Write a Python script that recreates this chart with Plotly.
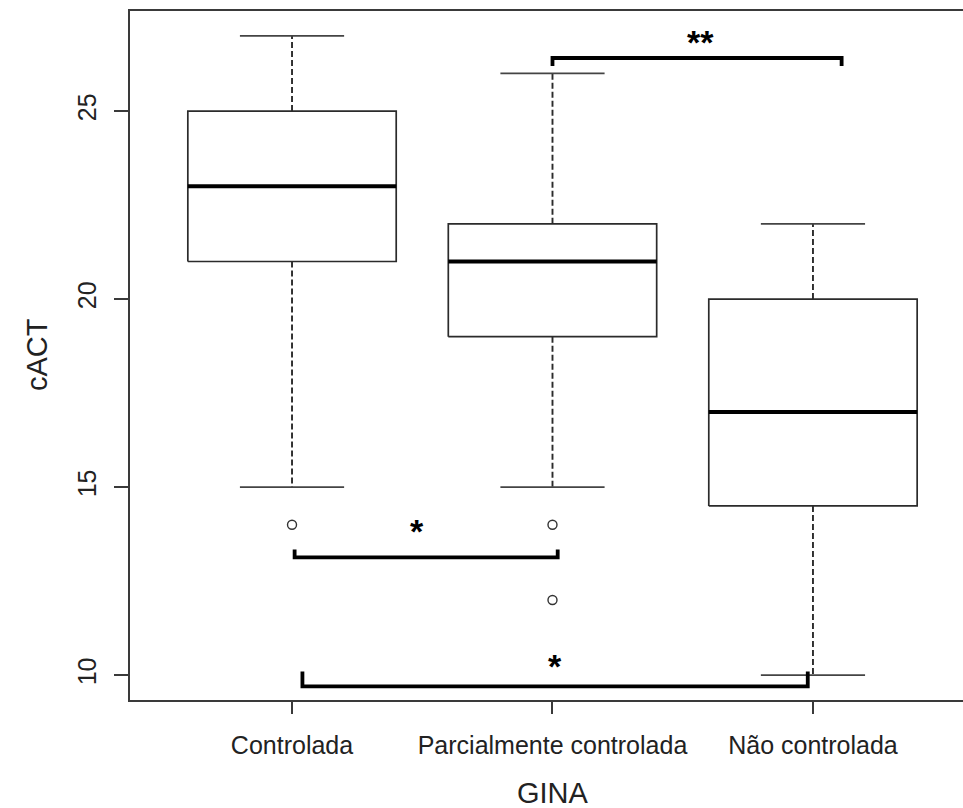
import plotly.graph_objects as go

# ---- data ----
categories = ["Controlada", "Parcialmente controlada", "Não controlada"]
q1 = [21, 19, 14.5]
median = [23, 21, 17]
q3 = [25, 22, 20]
lower_whisker = [15, 15, 10]
upper_whisker = [27, 26, 22]
outlier_group = [1, 2, 2]
outlier_value = [14, 14, 12]

# significance comparisons (group a, group b, label)
comp_a = [2, 1, 1]
comp_b = [3, 2, 3]
comp_label = ["**", "*", "*"]

# ---- styling / placement ----
BOX_HALF = 0.4
CAP_HALF = 0.2
LINE_COL = "#2b2b2b"
FONT = "Liberation Sans, Arial, sans-serif"

fig = go.Figure()
pos = [1, 2, 3]

for i, p in enumerate(pos):
    # box
    fig.add_trace(go.Scatter(
        x=[p - BOX_HALF, p + BOX_HALF, p + BOX_HALF, p - BOX_HALF, p - BOX_HALF],
        y=[q1[i], q1[i], q3[i], q3[i], q1[i]],
        mode="lines", line=dict(color=LINE_COL, width=1.7),
        showlegend=False, hoverinfo="skip"))
    # median
    fig.add_trace(go.Scatter(
        x=[p - BOX_HALF, p + BOX_HALF], y=[median[i], median[i]],
        mode="lines", line=dict(color="black", width=4),
        showlegend=False, hoverinfo="skip"))
    # whiskers (dashed)
    fig.add_trace(go.Scatter(
        x=[p, p, None, p, p],
        y=[q3[i], upper_whisker[i], None, q1[i], lower_whisker[i]],
        mode="lines", line=dict(color=LINE_COL, width=1.9, dash="6px,3px"),
        showlegend=False, hoverinfo="skip"))
    # caps
    fig.add_trace(go.Scatter(
        x=[p - CAP_HALF, p + CAP_HALF, None, p - CAP_HALF, p + CAP_HALF],
        y=[upper_whisker[i], upper_whisker[i], None, lower_whisker[i], lower_whisker[i]],
        mode="lines", line=dict(color="#444444", width=1.7),
        showlegend=False, hoverinfo="skip"))

# outliers
fig.add_trace(go.Scatter(
    x=outlier_group, y=outlier_value, mode="markers",
    marker=dict(symbol="circle-open", size=9, color="#333333", line=dict(width=1.4)),
    showlegend=False, hoverinfo="skip"))

# brackets: (left offset, right offset, bar y, end y, label x, label y)
bracket_geom = [
    (0.0, 0.11, 26.41, 26.20, 2.57, 26.94),
    (0.01, 0.02, 13.13, 13.34, 1.48, 13.95),
    (0.04, -0.02, 9.70, 10.10, 2.01, 10.36),
]
for k in range(len(comp_a)):
    lo, ro, by, ey, lx, ly = bracket_geom[k]
    xa = comp_a[k] + lo
    xb = comp_b[k] + ro
    fig.add_trace(go.Scatter(
        x=[xa, xa, xb, xb], y=[ey, by, by, ey], mode="lines",
        line=dict(color="black", width=3.8), showlegend=False, hoverinfo="skip"))
    fig.add_annotation(x=lx, y=ly, text="<b>" + comp_label[k] + "</b>", showarrow=False,
                       font=dict(family=FONT, size=34, color="black"), yshift=-4)

fig.update_layout(
    width=963, height=808,
    margin=dict(l=130, r=0, t=11, b=108),
    paper_bgcolor="white", plot_bgcolor="white",
    font=dict(family=FONT, color="#222222"),
    xaxis=dict(
        range=[0.378, 3.576], tickvals=pos, ticktext=categories,
        showgrid=False, zeroline=False, showline=True, mirror=True,
        linecolor="#3a3a3a", linewidth=1.7,
        ticks="outside", ticklen=12, tickwidth=1.7, tickcolor="#3a3a3a",
        tickfont=dict(size=25), ticklabelstandoff=10),
    yaxis=dict(
        range=[9.34, 27.66], tickvals=[10, 15, 20, 25],
        showgrid=False, zeroline=False, showline=True,
        linecolor="#3a3a3a", linewidth=1.7,
        ticks="outside", ticklen=14, tickwidth=1.7, tickcolor="#3a3a3a",
        tickangle=-90, tickfont=dict(size=25), ticklabelstandoff=8),
)

fig.add_annotation(xref="paper", yref="paper", x=(37 - 130) / 833, y=(808 - 355 - 108) / 689,
                   xanchor="center", yanchor="middle",
                   text="cACT", textangle=-90, showarrow=False,
                   font=dict(family=FONT, size=29, color="#222222"))
fig.add_annotation(xref="paper", yref="paper", x=(553 - 130) / 833, y=-(793 - 700) / 689,
                   xanchor="center", yanchor="middle",
                   text="GINA", showarrow=False,
                   font=dict(family=FONT, size=29, color="#222222"))

fig.write_html("out.html")
